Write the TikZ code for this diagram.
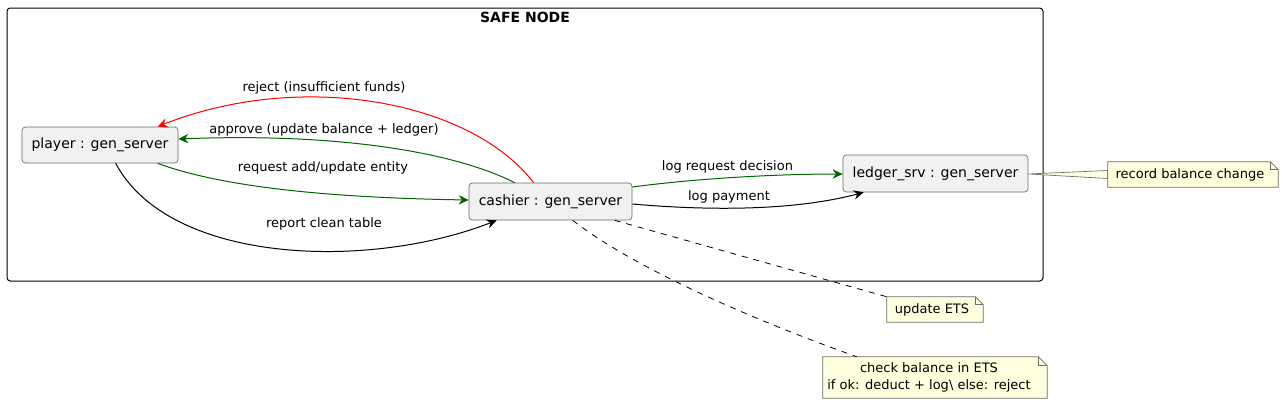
\documentclass[tikz,border=0pt]{standalone}
\usepackage{fontspec}
\setmainfont{DejaVu Sans}
\usetikzlibrary{arrows.meta,calc}
\definecolor{nodefill}{HTML}{F1F1F1}
\definecolor{notefill}{HTML}{FEFFDD}
\definecolor{nodeborder}{HTML}{6A6A6A}
\definecolor{darkgreenline}{HTML}{006400}
\definecolor{redline}{HTML}{FF0000}
\tikzset{
  comp/.style={draw=nodeborder, line width=0.5pt, fill=nodefill, rounded corners=2.5pt,
    font=\fontsize{10.5pt}{12pt}\selectfont, inner sep=0pt, anchor=center},
  notebox/.style={inner sep=0pt, font=\fontsize{9.75pt}{12.2pt}\selectfont, align=center},
  notepath/.style={draw=nodeborder, line width=0.5pt, fill=notefill},
  lbl/.style={font=\fontsize{9.75pt}{11pt}\selectfont, inner sep=0pt},
  arr/.style={line width=0.75pt, -{Stealth[length=7.5pt,width=7pt,inset=2.5pt]}},
  notelink/.style={line width=0.6pt, dash pattern=on 4.5pt off 4.5pt},
}
\newcommand{\notedraw}[2]{%
  \path[notepath] (#1.south west) -- (#1.north west) -- ($(#1.north east)+(-#2,0)$)
    -- ($(#1.north east)+(0,#2)$) -- (#1.south east) -- cycle;
  \draw[draw=nodeborder, line width=0.5pt] ($(#1.north east)+(-#2,0)$) -- ($(#1.north east)+(-#2,#2)$) -- ($(#1.north east)+(0,#2)$);
}
\begin{document}
\begin{tikzpicture}[x=0.75pt,y=-0.75pt]
\useasboundingbox (0,0) rectangle (1283,404);
% frame
\draw[line width=0.75pt, rounded corners=2.5pt] (7,8) rectangle (1043,281);
\node[font=\bfseries\fontsize{10.5pt}{12pt}\selectfont, inner sep=0pt] (title) at (525,17) {SAFE NODE};
% components
\node[comp, minimum width=156*0.75pt, minimum height=36*0.75pt] (player) at (100,145) {player : gen\_server};
\node[comp, minimum width=163*0.75pt, minimum height=37*0.75pt] (cashier) at (550.5,201.5) {cashier : gen\_server};
\node[comp, minimum width=185*0.75pt, minimum height=37*0.75pt] (ledger) at (935.5,173.5) {ledger\_srv : gen\_server};
% notes
\node[notebox, minimum width=170*0.75pt, minimum height=25*0.75pt] (rec) at (1193,174.5) {};
\node[notebox, minimum width=96*0.75pt, minimum height=25*0.75pt] (upd) at (935,309.5) {};
\node[notebox, minimum width=224*0.75pt, minimum height=41*0.75pt] (chk) at (935,377.5) {};
% wedge link ledger -> record note
\path[notepath] ($(ledger.east)+(0,0.5)$) -- ($(rec.west)+(0,-4)$) -- ($(rec.west)+(0,4)$) -- cycle;
\notedraw{rec}{8}
\notedraw{upd}{8}
\notedraw{chk}{9}
\node[notebox] (rect) at ($(rec.center)+(-3,0)$) {record balance change};
\node[notebox] (updt) at ($(upd.center)+(-3,0)$) {update ETS};
\node[notebox] (chkt) at ($(chk.center)+(-6,0)$) {check balance in ETS\\if ok: deduct + log\textbackslash{} else: reject};
% dashed note links
\draw[notelink] ($(cashier.south west)+(146,0)$) -- (upd.north west);
\draw[notelink] ($(cashier.south west)+(104,0)$) .. controls (630,265) and (740,315) .. ($(chk.north west)+(34,0)$);
% arrows
\draw[arr, draw=redline, -{Stealth[length=7.5pt,width=7pt,inset=2.5pt,fill=redline]}]
  ($(cashier.north west)+(65,0)$) .. controls (470,100) and (300,70) .. ($(player.north west)+(136,0)$);
\node[lbl] (l1) at (324,88) {reject (insufficient funds)};
\draw[arr, draw=darkgreenline]
  ($(cashier.north west)+(46,0)$) .. controls (450,150) and (330,133) .. ($(player.east)+(0,-6)$);
\node[lbl] (l2) at (324,130) {approve (update balance + ledger)};
\draw[arr, draw=darkgreenline]
  ($(player.south west)+(136,0)$) .. controls (230,190) and (350,198) .. ($(cashier.west)+(0,-1.5)$);
\node[lbl] (l3) at (323,168) {request add/update entity};
\draw[arr]
  ($(player.south west)+(94,0)$) .. controls (170,265) and (370,270) .. ($(cashier.south west)+(28,0)$);
\node[lbl] (l4) at (324,224) {report clean table};
\draw[arr, draw=darkgreenline]
  ($(cashier.east)+(0,-14.5)$) .. controls (700,178) and (780,174) .. ($(ledger.west)+(0,0.5)$);
\node[lbl] (l5) at (727.5,167) {log request decision};
\draw[arr]
  ($(cashier.east)+(0,2.5)$) .. controls (700,210) and (790,212) .. ($(ledger.south west)+(21,0)$);
\node[lbl] (l6) at (729,197) {log payment};
\end{tikzpicture}
\end{document}
